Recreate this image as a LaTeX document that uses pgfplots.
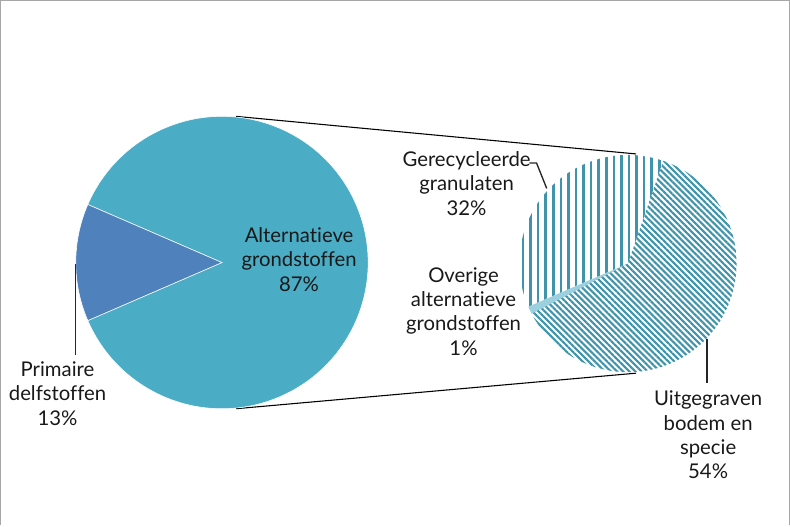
\documentclass[border=0pt]{standalone}
\usepackage{pgfplots}
\pgfplotsset{compat=1.18}
\usepackage{fontspec}
\setmainfont{Lato}[RawFeature={-liga;-dlig;-clig}]
\usetikzlibrary{patterns.meta}
\definecolor{aqua}{HTML}{4BACC6}
\definecolor{blauw}{HTML}{4F81BD}
\definecolor{streep}{HTML}{3F93AA}
\definecolor{licht}{HTML}{9CD0DE}
\definecolor{kader}{HTML}{A6A6A6}

% shares (percent of total)
\def\vPrim{13}
\def\vAlt{87}
\def\vGer{32}
\def\vOv{1}
\def\vUit{54}

% big pie: primary slice centred on the left
\pgfmathsetmacro\pA{180-\vPrim*1.8}
\pgfmathsetmacro\pB{180+\vPrim*1.8}
\pgfmathsetmacro\pC{\pA+360}
% small pie: the 87% split, starting at 71 deg
\pgfmathsetmacro\sA{71}
\pgfmathsetmacro\sB{\sA+\vGer/\vAlt*360}
\pgfmathsetmacro\sC{\sB+\vOv/\vAlt*360}
\pgfmathsetmacro\sD{\sA+360}

\begin{document}
\begin{tikzpicture}
\begin{axis}[
    x=0.75pt, y=0.75pt,
    xmin=0, xmax=790, ymin=0, ymax=521,
    hide axis, clip=false,
  ]
  % frame
  \draw[kader, line width=1pt] (axis cs:6,0) -- (axis cs:6,517) -- (axis cs:783,517) -- (axis cs:783,0);

  % connector lines
  \draw[black, line width=0.8pt] (axis cs:238,403) -- (axis cs:632,366);
  \draw[black, line width=0.8pt] (axis cs:238,115) -- (axis cs:632,150);

  % big pie
  \fill[aqua, draw=white, line width=0.4pt] (axis cs:224,259) -- ++(\pB:108pt) arc[start angle=\pB, end angle=\pC, radius=108pt] -- cycle;
  \fill[blauw, draw=white, line width=0.4pt] (axis cs:224,259) -- ++(\pA:108pt) arc[start angle=\pA, end angle=\pB, radius=108pt] -- cycle;

  % small pie
  \path[pattern={Lines[angle=90, distance=5.6pt, line width=1.9pt]}, pattern color=streep]
    (axis cs:624,258) -- ++(\sA:80.25pt) arc[start angle=\sA, end angle=\sB, radius=80.25pt] -- cycle;
  \fill[licht] (axis cs:624,258) -- ++(\sB:80.25pt) arc[start angle=\sB, end angle=\sC, radius=80.25pt] -- cycle;
  \path[pattern={Lines[angle=-45, distance=3.2pt, line width=1.6pt]}, pattern color=streep]
    (axis cs:624,258) -- ++(\sC:80.25pt) arc[start angle=\sC, end angle=\sD, radius=80.25pt] -- cycle;

  % leader lines
  \draw[black!85, line width=1pt] (axis cs:80,258) -- (axis cs:80,168);
  \draw[black!85, line width=1pt] (axis cs:527,357) -- (axis cs:534,357) -- (axis cs:544,332);
  \draw[black!85, line width=1pt] (axis cs:702,184) -- (axis cs:702,140);

  % labels
  \tikzset{lbl/.style={align=center, font=\fontsize{15}{18}\selectfont, inner sep=0pt, text=black!90}}
  \node[lbl] at (axis cs:300,262) {Alternatieve\\grondstoffen\\87\%};
  \node[lbl] at (axis cs:62,130) {Primaire\\delfstoffen\\13\%};
  \node[lbl] at (axis cs:465,337) {Gerecycleerde\\granulaten\\32\%};
  \node[lbl] at (axis cs:462,211) {Overige\\alternatieve\\grondstoffen\\1\%};
  \node[lbl] at (axis cs:703,89) {Uitgegraven\\bodem en\\specie\\54\%};
\end{axis}
\end{tikzpicture}
\end{document}
